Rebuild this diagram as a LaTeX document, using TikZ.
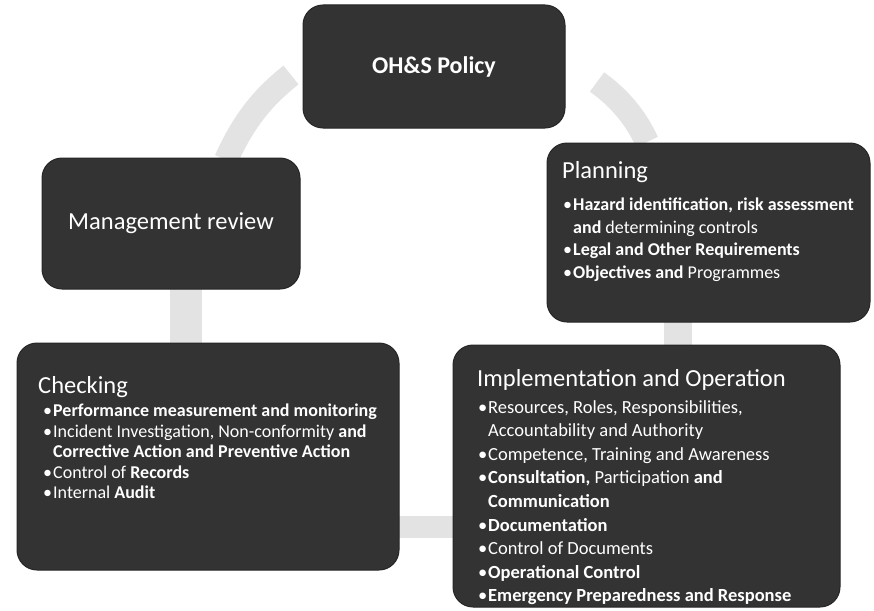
\documentclass[tikz,border=0pt]{standalone}
\usepackage{fontspec}
\setmainfont{Carlito}
\begin{document}
\newcommand\itm[1]{\makebox[10pt][l]{\textbullet}#1}
\newcommand\cnt[1]{\hspace*{10pt}#1}
\begin{tikzpicture}[x=1pt,y=-1pt,
  box/.style={draw=black!85,fill=black!80,rounded corners=20pt,line width=1pt,inner sep=0pt},
  title/.style={text=white,inner sep=0pt,anchor=west,font=\fontsize{24.5}{28}\selectfont},
  items/.style={text=white,inner sep=0pt,anchor=north west,align=left,font=\fontsize{18}{22.5}\selectfont},
  ring/.style={draw=black!11,line width=24pt}]
\useasboundingbox[fill=white] (0,0) rectangle (874,610);

% pieces of the cycle ring between the boxes
\draw[ring] (226,160) .. controls (243,122) and (262,98) .. (291,75);
\draw[ring] (597,82) .. controls (618,97) and (635,116) .. (647,142);
\draw[ring,line width=28pt] (678,320) -- (678,347);
\draw[ring,line width=22pt] (398,527) -- (455,527);
\draw[ring,line width=32pt] (186,287) -- (186,345);

% boxes
\node[box,minimum width=262pt,minimum height=123pt] (pol) at (434,66.5) {};
\node[box,minimum width=258pt,minimum height=131pt] (mgt) at (171,223.5) {};
\node[box,minimum width=323pt,minimum height=179pt] (pla) at (708.5,232.5) {};
\node[box,minimum width=382pt,minimum height=227pt] (chk) at (208,456.5) {};
\node[box,minimum width=387pt,minimum height=262pt] (imp) at (646.5,476) {};

% texts
\node[title,anchor=center,font=\fontsize{24}{28}\selectfont\bfseries] (polt) at (pol.center) {OH\&S Policy};
\node[title,anchor=center,font=\fontsize{24.5}{30}\selectfont] (mgtt) at (mgt.center) {Management review};

\node[title] (plat) at (562,172) {Planning};
\node[items] (plal) at (563,198) {%
\itm{\textbf{Hazard identification, risk assessment}}\\
\cnt{\textbf{and} determining controls}\\
\itm{\textbf{Legal and Other Requirements}}\\
\itm{\textbf{Objectives and} Programmes}};

\node[title] (chkt) at (38,387) {Checking};
\node[items,font=\fontsize{18}{20.5}\selectfont] (chkl) at (43,404) {%
\itm{\textbf{Performance measurement and monitoring}}\\
\itm{Incident Investigation, Non-conformity \textbf{and}}\\
\cnt{\textbf{Corrective Action and Preventive Action}}\\
\itm{Control of \textbf{Records}}\\
\itm{Internal \textbf{Audit}}};

\node[title] (impt) at (477,380) {Implementation and Operation};
\node[items,font=\fontsize{18.5}{23.6}\selectfont] (impl) at (478,400) {%
\itm{Resources, Roles, Responsibilities,}\\
\cnt{Accountability and Authority}\\
\itm{Competence, Training and Awareness}\\
\itm{\textbf{Consultation,} Participation \textbf{and}}\\
\cnt{\textbf{Communication}}\\
\itm{\textbf{Documentation}}\\
\itm{Control of Documents}\\
\itm{\textbf{Operational Control}}\\
\itm{\textbf{Emergency Preparedness and Response}}};
\end{tikzpicture}
\end{document}
